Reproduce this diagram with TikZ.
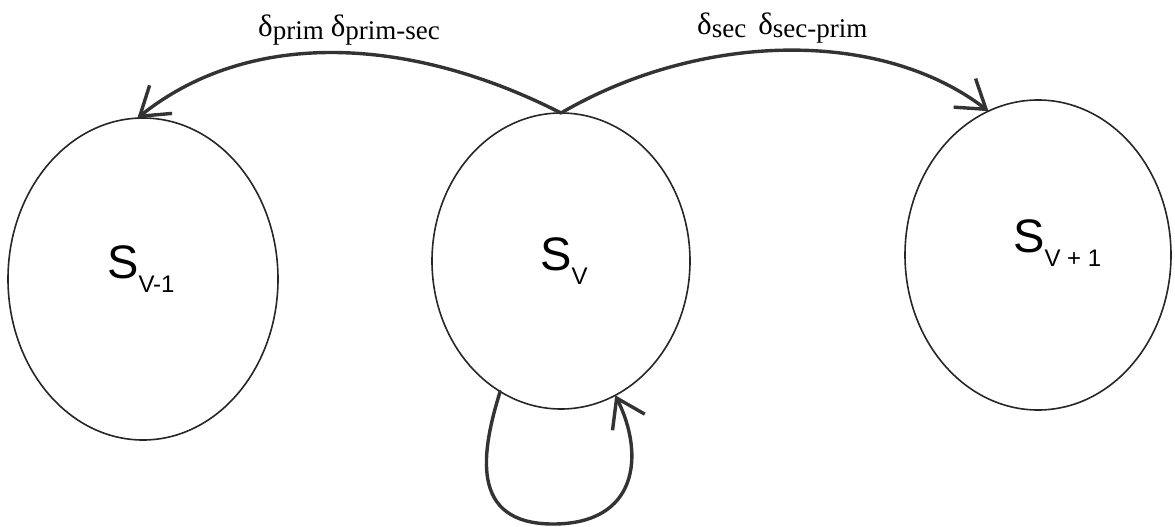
\documentclass[tikz,border=0pt]{standalone}
\usepackage{fontspec}
\setmainfont{Liberation Serif}
\newfontfamily\sfS{Liberation Sans}
\usetikzlibrary{shapes.geometric,arrows.meta}
\newcommand\dsub[1]{{\fontsize{31}{31}\selectfont δ}\raisebox{-3pt}{\fontsize{27}{27}\selectfont #1}}
\newcommand\slab[1]{{\fontsize{47}{47}\selectfont S}\raisebox{-14pt}{\fontsize{24}{24}\selectfont #1}}
\begin{document}
\begin{tikzpicture}[x=1pt,y=-1pt,
  state/.style={ellipse,draw=black!85,line width=1.6pt,inner sep=0pt,outer sep=0pt},
  arr/.style={draw=black!80,line width=3.4pt,line cap=round,-{Straight Barb[length=27pt,width=36pt]}},
  slabel/.style={anchor=base west,inner sep=0pt,font=\sfS},
  dlabel/.style={anchor=base west,inner sep=0pt}]
\useasboundingbox (0,0) rectangle (1175,527);
\node[state,minimum width=270pt,minimum height=322pt] (left) at (143,279) {};
\node[state,minimum width=258pt,minimum height=296pt] (mid) at (561,261) {};
\node[state,minimum width=266pt,minimum height=310pt] (right) at (1038,255) {};
\node[slabel] (sl) at (107,278) {\slab{V-1}};
\node[slabel] (sm) at (540,270) {\slab{V}};
\node[slabel] (sr) at (1013,252) {\slab{V + 1}};
\node[dlabel] (lab1) at (258,37) {\dsub{prim}\hspace{7pt}\dsub{prim-sec}};
\node[dlabel] (lab2) at (697,35) {\dsub{sec}\hspace{12pt}\dsub{sec-prim}};
\draw[arr] (mid.north) .. controls (410,36) and (250,28) .. (left.92);
\draw[arr] (mid.north) .. controls (700,32) and (880,28) .. (right.109);
\coordinate (loopb) at (553,524);
\draw[arr] (mid.245) .. controls (482,450) and (468,524) .. (loopb)
  .. controls (638,524) and (645,455) .. (mid.292);
\end{tikzpicture}
\end{document}
